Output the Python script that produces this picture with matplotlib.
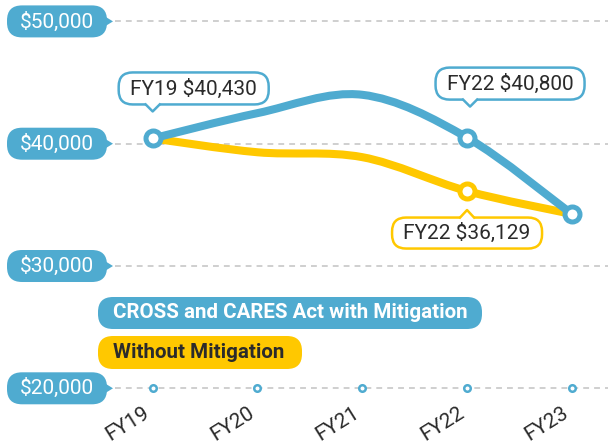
import matplotlib
matplotlib.use("Agg")
import matplotlib.pyplot as plt
import matplotlib.transforms as mtransforms
from matplotlib.patches import FancyBboxPatch, Polygon, PathPatch
from matplotlib.lines import Line2D
from matplotlib.path import Path
import numpy as np

plt.rcParams["font.family"] = ["Roboto", "DejaVu Sans"]

# data
years = ["FY19", "FY20", "FY21", "FY22", "FY23"]
with_mitigation = [40430, 42500, 44000, 40500, 34250]
without_mitigation = [40430, 39300, 38900, 36129, 34250]
y_ticks = [20000, 30000, 40000, 50000]
tick_labels = ["$20,000", "$30,000", "$40,000", "$50,000"]
legend_labels = ["CROSS and CARES Act with Mitigation", "Without Mitigation"]
callout_labels = ["FY19 $40,430", "FY22 $40,800", "FY22 $36,129"]

BLUE = "#4fabd0"
YELLOW = "#ffc800"
GRID = "#cfcfcf"
DARK = "#2b2b2b"

W, H = 608, 444
fig = plt.figure(figsize=(W / 100, H / 100), dpi=100)
ax = fig.add_axes([0, 0, 1, 1])
ax.set_xlim(-1.457, 4.345)
ax.set_ylim(15446, 51750)
ax.axis("off")

x = np.arange(len(years))

# image pixel coords (y down) for things placed on the canvas
fig_px = mtransforms.Affine2D().scale(1 / 100, -1 / 100).translate(0, H / 100) + fig.dpi_scale_trans


def anchor(xd, yd):
    # pixel offsets (y up) around a data point
    return (mtransforms.Affine2D().scale(1 / 100) + fig.dpi_scale_trans
            + mtransforms.ScaledTranslation(xd, yd, ax.transData))


def smooth_path(xs, ys):
    # cardinal (catmull-rom) spline through the points, as bezier segments
    px = np.r_[xs[0], xs, xs[-1]].astype(float)
    py = np.r_[ys[0], ys, ys[-1]].astype(float)
    verts = [(px[1], py[1])]
    codes = [Path.MOVETO]
    for j in range(len(xs) - 1):
        c1 = (px[j + 1] + (px[j + 2] - px[j]) / 6, py[j + 1] + (py[j + 2] - py[j]) / 6)
        c2 = (px[j + 2] - (px[j + 3] - px[j + 1]) / 6, py[j + 2] - (py[j + 3] - py[j + 1]) / 6)
        verts += [c1, c2, (px[j + 2], py[j + 2])]
        codes += [Path.CURVE4] * 3
    return Path(verts, codes)


# grid
x_grid0 = -1.457 + 115 / 104.8
ax.hlines(y_ticks, x_grid0, 4.345, colors=GRID, lw=1.4, linestyles=(0, (3, 2.6)), zorder=1)

# y tick pills
for v, lab in zip(y_ticks, tick_labels):
    tr = anchor(-1.457, v)
    ax.add_patch(FancyBboxPatch((7, -16), 100, 32, boxstyle="round,pad=0,rounding_size=15",
                                fc=BLUE, ec="none", transform=tr, zorder=3))
    ax.add_patch(Polygon([(100, 8), (113, 0), (100, -8)], closed=True, fc=BLUE, ec="none",
                         transform=tr, zorder=3))
    ax.text(57, 0, lab, transform=tr, ha="center", va="center", color="white",
            fontsize=15, zorder=4)

# lines
for vals, col in [(without_mitigation, YELLOW), (with_mitigation, BLUE)]:
    ax.add_patch(PathPatch(smooth_path(x, vals), fill=False, ec=col, lw=5.8,
                           capstyle="round", joinstyle="round", zorder=4))

# markers
ms, mew = 10.8, 3.6
ax.plot(x[3], without_mitigation[3], "o", ms=ms, mfc="white", mec=YELLOW, mew=mew, zorder=5)
idx = [0, 3, 4]
ax.plot(x[idx], np.array(with_mitigation)[idx], "o", ms=ms, mfc="white", mec=BLUE, mew=mew, zorder=5)

# small markers on the x axis line
ax.plot(x, [y_ticks[0]] * len(x), "o", ms=4.7, mfc="white", mec=BLUE, mew=1.8, zorder=3)

# x labels
for i, lab in enumerate(years):
    ax.text(-25, -35, lab, transform=anchor(x[i], y_ticks[0]), rotation=32,
            ha="center", va="center", fontsize=15, color=DARK)


def callout(xd, yd, text, color, dx, dy, w, h, tip):
    tr = anchor(xd, yd)
    ax.add_patch(FancyBboxPatch((dx - w / 2, dy - h / 2), w, h,
                                boxstyle="round,pad=0,rounding_size=14",
                                fc="white", ec=color, lw=1.8, transform=tr, zorder=6))
    tx, ty = tip
    base = dy - h / 2 if ty < dy else dy + h / 2
    inner = 2 if ty < dy else -2
    ax.add_patch(Polygon([(tx - 7, base + inner), (tx - 7, base), (tx, ty), (tx + 7, base),
                          (tx + 7, base + inner)], closed=True, fc="white", ec="none",
                         transform=tr, zorder=7))
    ax.add_line(Line2D([tx - 7, tx, tx + 7], [base, ty, base], color=color, lw=1.8,
                       transform=tr, zorder=7))
    ax.text(dx, dy, text, transform=tr, ha="center", va="center", fontsize=15,
            color=DARK, zorder=8)


callout(x[0], with_mitigation[0], callout_labels[0], BLUE, 41, 50, 150, 32, (0, 27))
callout(x[3], with_mitigation[3], callout_labels[1], BLUE, 43, 54, 149, 32, (3, 31))
callout(x[3], without_mitigation[3], callout_labels[2], YELLOW, 0, -42, 150, 31, (0, -19))

# legend pills
ax.add_patch(FancyBboxPatch((98, 297), 384, 32, boxstyle="round,pad=0,rounding_size=15",
                            fc=BLUE, ec="none", transform=fig_px, zorder=3))
ax.text(113, 313, legend_labels[0], transform=fig_px, ha="left", va="center",
        fontsize=14.8, fontweight="bold", color="white", zorder=4)
ax.add_patch(FancyBboxPatch((98, 336), 204, 33, boxstyle="round,pad=0,rounding_size=15",
                            fc=YELLOW, ec="none", transform=fig_px, zorder=3))
ax.text(113, 352.5, legend_labels[1], transform=fig_px, ha="left", va="center",
        fontsize=14.8, fontweight="bold", color=DARK, zorder=4)

fig.savefig("out.png", dpi=100)
